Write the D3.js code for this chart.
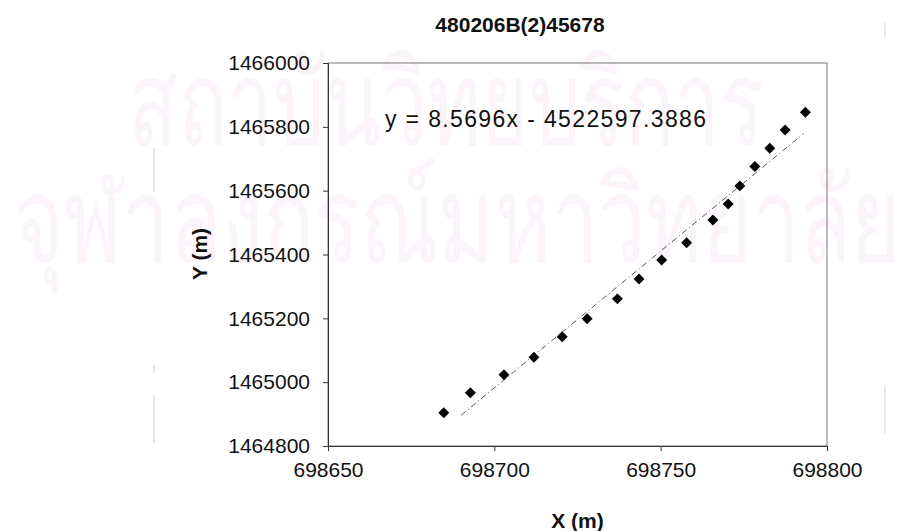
<!DOCTYPE html>
<html>
<head>
<meta charset="utf-8">
<script src="https://cdn.jsdelivr.net/npm/d3@7"></script>
<style>
  html, body { margin: 0; padding: 0; background: #fff; }
  svg { display: block; }
  text { font-family: "Liberation Sans", Arial, sans-serif; fill: #111; }
</style>
</head>
<body>
<svg id="chart" width="901" height="531"></svg>
<script>
// Survey points: easting X and northing Y (metres)
const xValues = [698684.8, 698692.8, 698702.9, 698711.9, 698720.4, 698727.9, 698737.0, 698743.5,
                 698750.3, 698757.8, 698765.7, 698770.3, 698773.8, 698778.3, 698782.8, 698787.4, 698793.5];
const yValues = [1464904, 1464967, 1465023, 1465078, 1465142, 1465199, 1465261, 1465323,
                 1465383, 1465437, 1465508, 1465558, 1465615, 1465676, 1465733, 1465790, 1465846];

// Linear trend line y = slope * x + intercept
const slope = 8.5696;
const intercept = -4522597.3886;
const trendRange = [698690, 698793];

const xTicks = [698650, 698700, 698750, 698800];
const yTicks = [1464800, 1465000, 1465200, 1465400, 1465600, 1465800, 1466000];

const titleText = "480206B(2)45678";
const xTitle = "X (m)";
const yTitle = "Y (m)";
const watermarkLines = ["สถาบันวิทยบริการ", "จุฬาลงกรณ์มหาวิทยาลัย"];

const svg = d3.select("#chart");
const plot = { left: 328, top: 63, right: 827, bottom: 446 };

// Faint background watermark
const wm = svg.append("g").attr("class", "watermark")
  .style("font-family", "'Noto Sans Thai', 'Noto Sans', sans-serif")
  .style("font-size", "118px");
wm.append("text").attr("x", 128).attr("y", 145).attr("textLength", 636)
  .attr("lengthAdjust", "spacingAndGlyphs").style("fill", "#fcf4fb").text(watermarkLines[0]);
wm.append("text").attr("x", 14).attr("y", 262).attr("textLength", 887)
  .attr("lengthAdjust", "spacingAndGlyphs").style("fill", "#fcf4fb").text(watermarkLines[1]);

// Faint page edge marks
const edges = [[154, 148, 192], [154, 365, 373], [154, 395, 443], [885, 385, 433], [885, 23, 37]];
svg.append("g").selectAll("line").data(edges).join("line")
  .attr("x1", d => d[0]).attr("x2", d => d[0]).attr("y1", d => d[1]).attr("y2", d => d[2])
  .attr("stroke", "#cfcfcf").attr("stroke-width", 1);

const x = d3.scaleLinear().domain([698650, 698800]).range([plot.left, plot.right]);
const y = d3.scaleLinear().domain([1464800, 1466000]).range([plot.bottom, plot.top]);

// Plot frame
svg.append("rect")
  .attr("x", plot.left).attr("y", plot.top)
  .attr("width", plot.right - plot.left).attr("height", plot.bottom - plot.top)
  .attr("fill", "none").attr("stroke", "#777").attr("stroke-width", 1);

// Axes
const xAxis = d3.axisBottom(x).tickValues(xTicks).tickFormat(d3.format("d"))
  .tickSize(5).tickPadding(11);
const yAxis = d3.axisLeft(y).tickValues(yTicks).tickFormat(d3.format("d"))
  .tickSize(5).tickPadding(13);

const gx = svg.append("g").attr("transform", `translate(0,${plot.bottom})`).call(xAxis);
const gy = svg.append("g").attr("transform", `translate(${plot.left},0)`).call(yAxis);
[gx, gy].forEach(g => {
  g.select(".domain").attr("stroke", "#333");
  g.selectAll(".tick line").attr("stroke", "#333");
  g.selectAll(".tick text")
    .style("font-family", "'Liberation Sans', Arial, sans-serif")
    .style("font-size", "21px").style("fill", "#111");
});

// Trend line
const trendPts = trendRange.map(v => [v, slope * v + intercept]);
svg.append("path")
  .datum(trendPts)
  .attr("d", d3.line().x(d => x(d[0])).y(d => y(d[1])))
  .attr("fill", "none").attr("stroke", "#555").attr("stroke-width", 1)
  .attr("stroke-dasharray", "6,3,1,3");

// Data points as diamonds
const diamond = d3.symbol().type(d3.symbolSquare).size(60);
svg.append("g").selectAll("path")
  .data(xValues.map((v, i) => [v, yValues[i]]))
  .join("path")
  .attr("d", diamond)
  .attr("transform", d => `translate(${x(d[0])},${y(d[1])}) rotate(45)`)
  .attr("fill", "#000");

// Equation label
svg.append("text")
  .attr("x", 385).attr("y", 127)
  .attr("textLength", 321).attr("lengthAdjust", "spacing")
  .style("font-size", "23px")
  .text(`y = ${slope}x - ${Math.abs(intercept)}`);

// Titles
svg.append("text")
  .attr("x", 520).attr("y", 32).attr("text-anchor", "middle")
  .style("font-size", "21px").style("font-weight", "bold")
  .text(titleText);

svg.append("text")
  .attr("x", (plot.left + plot.right) / 2).attr("y", 528).attr("text-anchor", "middle")
  .style("font-size", "21px").style("font-weight", "bold")
  .text(xTitle);

svg.append("text")
  .attr("transform", `translate(207,254) rotate(-90)`).attr("text-anchor", "middle")
  .style("font-size", "21px").style("font-weight", "bold")
  .text(yTitle);
</script>
</body>
</html>
